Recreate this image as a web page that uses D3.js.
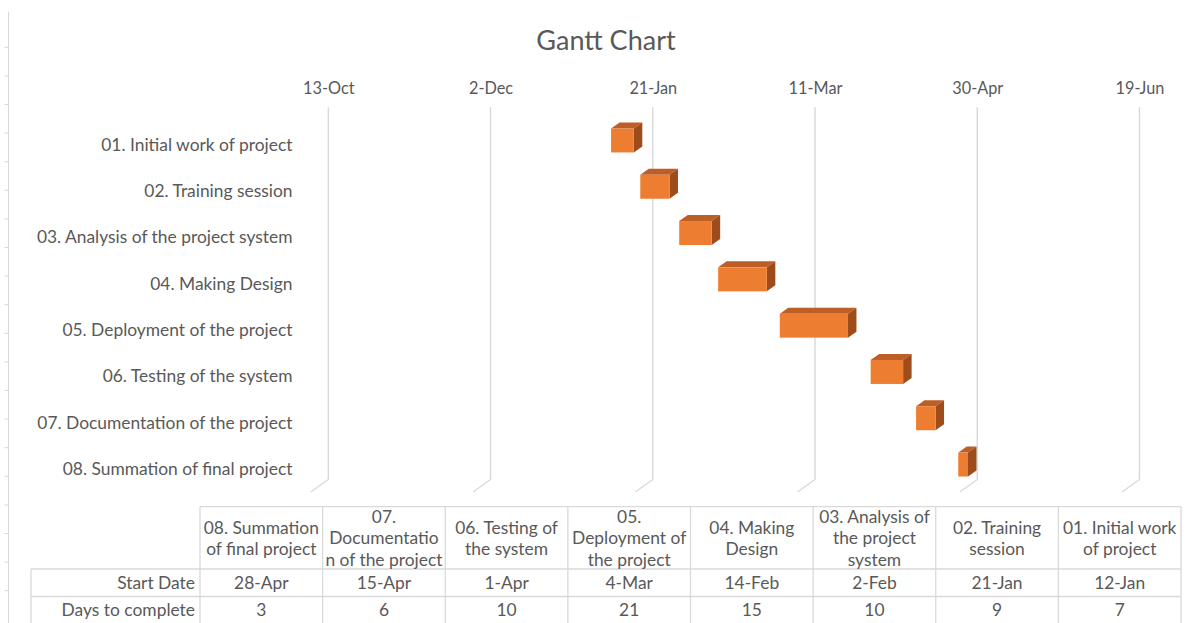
<!DOCTYPE html>
<html>
<head>
<meta charset="utf-8">
<script src="https://cdn.jsdelivr.net/npm/d3@7"></script>
<style>
  body { margin: 0; background: #ffffff; }
  svg { display: block; }
  text { font-family: Lato, "Open Sans", sans-serif; fill: #595959; }
</style>
</head>
<body>
<svg id="chart" width="1201" height="623"></svg>
<script>
// ---------------- data ----------------
const title = "Gantt Chart";
const categories = [
  "01. Initial work of project",
  "02. Training session",
  "03. Analysis of the project system",
  "04. Making Design ",
  "05. Deployment of the project ",
  "06. Testing of the system",
  "07. Documentation of the project",
  "08. Summation of final project"
];
const startDates = ["2020-01-12", "2020-01-21", "2020-02-02", "2020-02-14", "2020-03-04", "2020-04-01", "2020-04-15", "2020-04-28"];
const startLabels = ["12-Jan", "21-Jan", "2-Feb", "14-Feb", "4-Mar", "1-Apr", "15-Apr", "28-Apr"];
const daysToComplete = [7, 9, 10, 15, 21, 10, 6, 3];
const tableHeaders = [
  "01. Initial work\nof project",
  "02. Training\nsession",
  "03. Analysis of\nthe project\nsystem",
  "04. Making\nDesign",
  "05.\nDeployment of\nthe project",
  "06. Testing of\nthe system",
  "07.\nDocumentatio\nn of the project",
  "08. Summation\nof final project"
];
const rowLabels = ["Start Date", "Days to complete"];
const tickDates = ["2019-10-13", "2019-12-02", "2020-01-21", "2020-03-11", "2020-04-30", "2020-06-19"];
const tickLabels = ["13-Oct", "2-Dec", "21-Jan", "11-Mar", "30-Apr", "19-Jun"];

// ---------------- setup ----------------
const parse = d3.utcParse("%Y-%m-%d");
const svg = d3.select("#chart");
const DAY = 24 * 3600 * 1000;

const rows = categories.map((c, i) => ({
  cat: c,
  start: parse(startDates[i]),
  end: new Date(parse(startDates[i]).getTime() + daysToComplete[i] * DAY),
  startLabel: startLabels[i],
  days: daysToComplete[i],
  header: tableHeaders[i]
}));
const ticks = tickDates.map(parse);

const x = d3.scaleUtc().domain([ticks[0], ticks[ticks.length - 1]]).range([328.3, 1139.5]);
const y = d3.scaleBand().domain(categories).range([121.15, 491.55]).paddingInner(0).paddingOuter(0);

const gridTop = 107.3, gridBottom = 479.5;
const floorDX = -17.5, floorDY = 12.5;
const frontDX = -12.5;        // front face offset relative to back wall
const depthX = 8.5, depthY = -6;
const gridColor = "#d9d9d9";
const fs = "17.4px";

// left decoration (sheet edge)
svg.append("line").attr("x1", 8.5).attr("x2", 8.5).attr("y1", 11.7).attr("y2", 623)
  .attr("stroke", gridColor).attr("stroke-width", 1);
svg.append("g").selectAll("line").data(d3.range(20)).join("line")
  .attr("x1", 4.5).attr("x2", 8.5)
  .attr("y1", d => 47.3 + d * 28.6).attr("y2", d => 47.3 + d * 28.6)
  .attr("stroke", gridColor).attr("stroke-width", 1);

// title
svg.append("text").attr("x", 606).attr("y", 50)
  .attr("text-anchor", "middle").style("font-size", "27px").text(title);

// axis labels (top)
const axis = d3.axisTop(x).tickValues(ticks).tickSize(0).tickPadding(0)
  .tickFormat((d, i) => tickLabels[i]);
const gAxis = svg.append("g").attr("transform", "translate(0,94)").call(axis);
gAxis.select(".domain").remove();
gAxis.selectAll("text").style("font-size", "16.3px").attr("dy", 0)
  .style("font-family", "Lato, 'Open Sans', sans-serif").attr("fill", "#595959");

// gridlines with floor slant
const grid = svg.append("g");
grid.selectAll("path").data(ticks).join("path")
  .attr("d", d => {
    const gx = x(d);
    return `M${gx},${gridTop}L${gx},${gridBottom}L${gx + floorDX},${gridBottom + floorDY}`;
  })
  .attr("fill", "none").attr("stroke", gridColor).attr("stroke-width", 1.4);

// category labels
svg.append("g").selectAll("text").data(categories).join("text")
  .attr("x", 292.5).attr("y", d => y(d) + y.bandwidth() / 2)
  .attr("text-anchor", "end").attr("dominant-baseline", "central")
  .style("font-size", fs).text(d => d.trim());

// 3D bars
const bars = svg.append("g").selectAll("g").data(rows).join("g");
const barY = d => y(d.cat) + 7.3;
const barH = 24;
const bx = d => x(d.start) + frontDX;
const bw = d => x(d.end) - x(d.start);
bars.append("path") // top face
  .attr("d", d => {
    const x0 = bx(d), y0 = barY(d), w = bw(d);
    return `M${x0},${y0}L${x0 + w},${y0}L${x0 + w + depthX},${y0 + depthY}L${x0 + depthX},${y0 + depthY}Z`;
  })
  .attr("fill", "#BD5E26");
bars.append("path") // side face
  .attr("d", d => {
    const x0 = bx(d), y0 = barY(d), w = bw(d);
    return `M${x0 + w},${y0}L${x0 + w + depthX},${y0 + depthY}L${x0 + w + depthX},${y0 + barH + depthY}L${x0 + w},${y0 + barH}Z`;
  })
  .attr("fill", "#9E4C1C");
bars.append("rect") // front face
  .attr("x", bx).attr("y", barY).attr("width", bw).attr("height", barH)
  .attr("fill", "#ED7D31");

// ---------------- data table ----------------
const tableRows = rows.slice().reverse();
const col = d3.scaleBand().domain(tableRows.map(d => d.cat)).range([200, 1181]);
const tTop = 506.7, hBottom = 569, r1Bottom = 596.5, r2Bottom = 624;
const rowLeft = 31;
const tbl = svg.append("g");
const lineAttr = sel => sel.attr("stroke", gridColor).attr("stroke-width", 1.3);

// horizontal lines
lineAttr(tbl.append("line").attr("x1", 200).attr("x2", 1181).attr("y1", tTop).attr("y2", tTop));
[hBottom, r1Bottom].forEach(yy => lineAttr(tbl.append("line").attr("x1", rowLeft).attr("x2", 1181).attr("y1", yy).attr("y2", yy)));
// vertical lines
const vx = col.domain().map(c => col(c)).concat([1181]);
vx.forEach(xx => lineAttr(tbl.append("line").attr("x1", xx).attr("x2", xx).attr("y1", tTop).attr("y2", r2Bottom)));
lineAttr(tbl.append("line").attr("x1", rowLeft).attr("x2", rowLeft).attr("y1", hBottom).attr("y2", r2Bottom));

// header text
const lineH = 21.3;
tableRows.forEach(r => {
  const lines = r.header.split("\n");
  const cx = col(r.cat) + col.bandwidth() / 2;
  const cy = (tTop + hBottom) / 2;
  lines.forEach((ln, i) => {
    tbl.append("text").attr("x", cx)
      .attr("y", cy + (i - (lines.length - 1) / 2) * lineH)
      .attr("text-anchor", "middle").attr("dominant-baseline", "central")
      .style("font-size", fs).text(ln);
  });
  tbl.append("text").attr("x", cx).attr("y", (hBottom + r1Bottom) / 2)
    .attr("text-anchor", "middle").attr("dominant-baseline", "central")
    .style("font-size", fs).text(r.startLabel);
  tbl.append("text").attr("x", cx).attr("y", (r1Bottom + r2Bottom) / 2 - 1)
    .attr("text-anchor", "middle").attr("dominant-baseline", "central")
    .style("font-size", fs).text(r.days);
});
// row labels
rowLabels.forEach((t, i) => {
  tbl.append("text").attr("x", 195)
    .attr("y", i === 0 ? (hBottom + r1Bottom) / 2 : (r1Bottom + r2Bottom) / 2 - 1)
    .attr("text-anchor", "end").attr("dominant-baseline", "central")
    .style("font-size", fs).text(t);
});
</script>
</body>
</html>
